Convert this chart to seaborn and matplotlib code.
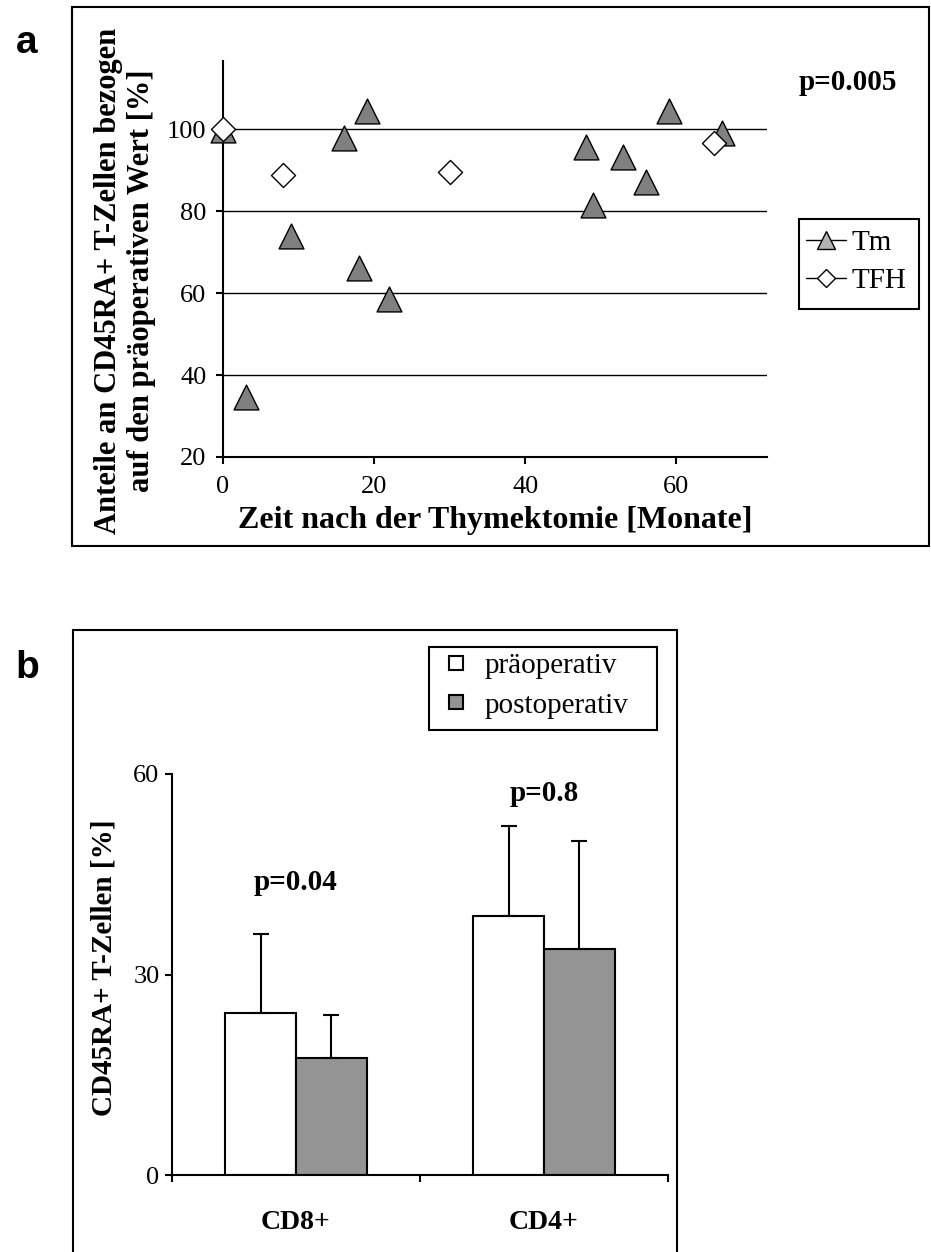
import matplotlib
matplotlib.use('Agg')
import pandas as pd
import seaborn as sns
import matplotlib.pyplot as plt
from matplotlib.lines import Line2D
from matplotlib.patches import Rectangle

# Teil a: Anteile bezogen auf den praeoperativen Wert
tm_monate = [0, 3, 9, 16, 18, 19, 22, 48, 49, 53, 56, 59, 66]
tm_anteil = [99.7, 34.7, 73.8, 97.7, 66.2, 104.5, 58.5, 95.5, 81.5, 93.1, 87.0, 104.5, 99.1]
tfh_monate = [0, 8, 30, 65]
tfh_anteil = [100.0, 88.7, 89.6, 96.7]

# Teil b: CD45RA+ T-Zellen vor und nach der OP
gruppen = ['CD8+', 'CD4+']
praeoperativ = [24.3, 38.7]
postoperativ = [17.5, 33.8]
praeoperativ_sd = [11.7, 13.5]
postoperativ_sd = [6.5, 16.2]
p_werte = ['p=0.04', 'p=0.8']
p_hoehe = [43.8, 57.1]

sns.set_style('ticks')
plt.rcParams['font.family'] = ['Liberation Serif', 'DejaVu Serif']
plt.rcParams['axes.edgecolor'] = 'black'
plt.rcParams['axes.linewidth'] = 1.5
plt.rcParams['xtick.color'] = 'black'
plt.rcParams['ytick.color'] = 'black'
plt.rcParams['text.color'] = 'black'

W, H = 931, 1252
f = plt.figure(figsize=(W / 100, H / 100), dpi=100)


def fx(px):
    return px / W


def fy(py):
    return 1 - py / H


def rahmen(x0, y0, x1, y1):
    f.patches.append(Rectangle((fx(x0), fy(y1)), fx(x1) - fx(x0), fy(y0) - fy(y1),
                               transform=f.transFigure, fill=False, ec='black', lw=1.5))


# Rahmen um die beiden Teile und um die Legenden
rahmen(72, 7, 929, 546)
rahmen(73, 630, 677, 1262)
rahmen(799, 219, 919, 309)
rahmen(429, 647, 657, 730)

# ---------------------------------------------------------------- a
ax1 = f.add_axes([fx(223), fy(457), fx(767) - fx(223), fy(61) - fy(457)])
sns.scatterplot(x=tm_monate, y=tm_anteil, marker='^', s=320, color='#808080',
                edgecolor='black', linewidth=1, ax=ax1, zorder=3, clip_on=False)
sns.scatterplot(x=tfh_monate, y=tfh_anteil, marker='D', s=150, color='white',
                edgecolor='black', linewidth=1, ax=ax1, zorder=4, clip_on=False)
ax1.set_xlim(0, 72)
ax1.set_ylim(20, 116.6)
ax1.set_xticks([0, 20, 40, 60])
ax1.set_yticks([20, 40, 60, 80, 100])
ax1.set_axisbelow(True)
ax1.yaxis.grid(True, color='black', lw=1)
ax1.tick_params(direction='out', length=5, width=1.5, labelsize=19)
ax1.tick_params(axis='y', pad=7)
ax1.tick_params(axis='x', pad=9)
sns.despine(ax=ax1)
ax1.set(xlabel=None, ylabel=None)

f.text(fx(495), fy(521), 'Zeit nach der Thymektomie [Monate]', ha='center', va='center',
       fontsize=23, fontweight='bold')
f.text(fx(125), fy(281), 'Anteile an CD45RA+ T-Zellen bezogen\nauf den präoperativen Wert [%]',
       rotation=90, ha='center', va='center', multialignment='center',
       fontsize=22, fontweight='bold', linespacing=1.15)
f.text(fx(848), fy(83), 'p=0.005', ha='center', va='center', fontsize=21, fontweight='bold')
f.text(fx(27), fy(43), 'a', ha='center', va='center', fontsize=28, fontweight='bold',
       family=['Liberation Sans', 'DejaVu Sans'])

handles = [Line2D([], [], color='black', lw=1, marker='^', markersize=13,
                  markerfacecolor='#b3b3b3', markeredgecolor='black'),
           Line2D([], [], color='black', lw=1, marker='D', markersize=9,
                  markerfacecolor='white', markeredgecolor='black')]
f.legend(handles, ['Tm', 'TFH'], loc='upper left', bbox_to_anchor=(fx(806), fy(230)),
         bbox_transform=f.transFigure, frameon=False, fontsize=21, handlelength=1.37,
         handletextpad=0.2, borderpad=0, labelspacing=0.4, borderaxespad=0)

# ---------------------------------------------------------------- b
ax2 = f.add_axes([fx(172), fy(1175), fx(668) - fx(172), fy(774) - fy(1175)])
dane = pd.DataFrame({'Gruppe': gruppen * 2,
                     'Zeitpunkt': ['präoperativ'] * 2 + ['postoperativ'] * 2,
                     'Wert': praeoperativ + postoperativ})
farben = ['white', '#949494']
sns.barplot(data=dane, x='Gruppe', y='Wert', hue='Zeitpunkt', palette=farben,
            edgecolor='black', linewidth=1.5, width=0.57, errorbar=None, legend=False,
            saturation=1, ax=ax2)
balken = list(ax2.containers)

for cont, sd in zip(balken, [praeoperativ_sd, postoperativ_sd]):
    for bar, s in zip(cont, sd):
        x = bar.get_x() + bar.get_width() / 2
        ax2.errorbar(x, bar.get_height(), yerr=[[0], [s]], color='black', lw=1.5,
                     capsize=6, capthick=1.5, zorder=1)

for i, p in enumerate(p_werte):
    ax2.text(i, p_hoehe[i], p, ha='center', va='center', fontsize=21, fontweight='bold')

ax2.set_xlim(-0.5, 1.5)
ax2.set_ylim(0, 60)
ax2.set_yticks([0, 30, 60])
ax2.set_xticks([0, 1])
ax2.set_xticklabels(gruppen, fontweight='bold', fontsize=20)
ax2.set_xticks([-0.5, 0.5, 1.5], minor=True)
ax2.tick_params(axis='x', which='major', length=0, pad=25)
ax2.tick_params(axis='x', which='minor', length=5, width=1.5, direction='out')
ax2.tick_params(axis='y', length=5, width=1.5, direction='out', labelsize=19, pad=4)
sns.despine(ax=ax2)
ax2.set(xlabel=None, ylabel=None)

f.text(fx(104), fy(968), 'CD45RA+ T-Zellen [%]', rotation=90, ha='center', va='center',
       fontsize=21, fontweight='bold')
f.text(fx(27), fy(668), 'b', ha='center', va='center', fontsize=28, fontweight='bold',
       family=['Liberation Sans', 'DejaVu Sans'])

kaestchen = [Line2D([], [], lw=0, marker='s', markersize=10, markerfacecolor=c,
                    markeredgecolor='black', markeredgewidth=1.5) for c in farben]
ax2.legend(handles=kaestchen, labels=['präoperativ', 'postoperativ'],
           loc='upper left', bbox_to_anchor=(fx(438), fy(653)), bbox_transform=f.transFigure,
           frameon=False, fontsize=21, handlelength=1.23, handletextpad=0.38, borderpad=0,
           labelspacing=0.44, borderaxespad=0)

f.savefig('out.png', dpi=100)
